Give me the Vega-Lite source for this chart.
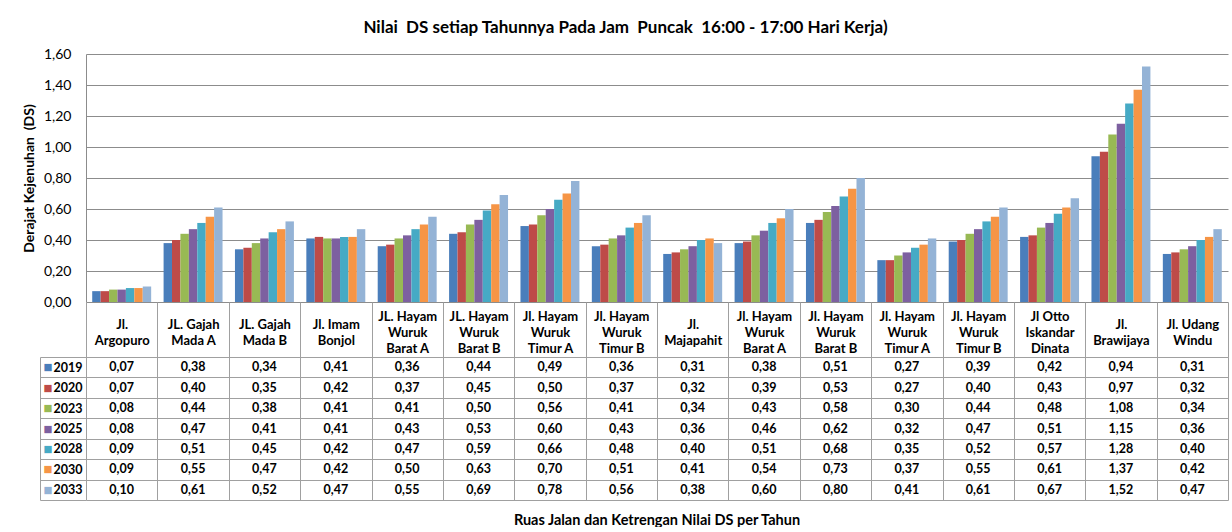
{
  "$schema": "https://vega.github.io/schema/vega-lite/v6.json",
  "background": "white",
  "padding": {"left": 22, "top": 19, "right": 4, "bottom": 0},
  "config": {
    "view": {"stroke": null},
    "locale": {"number": {"decimal": ",", "thousands": ".", "grouping": [3], "currency": ["", ""]}},
    "font": "Lato"
  },
  "title": {"text": "Nilai \u00a0DS setiap Tahunnya Pada Jam \u00a0Puncak \u00a016:00 - 17:00 Hari Kerja)", "font": "Lato", "fontSize": 17, "fontWeight": "bold", "color": "black", "anchor": "middle", "frame": "bounds", "offset": 10},
  "data": {"values": [
    {"k": "01|Jl.|Argopuro", "y": "2019", "v": 0.07}, {"k": "01|Jl.|Argopuro", "y": "2020", "v": 0.07}, {"k": "01|Jl.|Argopuro", "y": "2023", "v": 0.08}, {"k": "01|Jl.|Argopuro", "y": "2025", "v": 0.08}, {"k": "01|Jl.|Argopuro", "y": "2028", "v": 0.09}, {"k": "01|Jl.|Argopuro", "y": "2030", "v": 0.09}, {"k": "01|Jl.|Argopuro", "y": "2033", "v": 0.10},
    {"k": "02|JL. Gajah|Mada A", "y": "2019", "v": 0.38}, {"k": "02|JL. Gajah|Mada A", "y": "2020", "v": 0.40}, {"k": "02|JL. Gajah|Mada A", "y": "2023", "v": 0.44}, {"k": "02|JL. Gajah|Mada A", "y": "2025", "v": 0.47}, {"k": "02|JL. Gajah|Mada A", "y": "2028", "v": 0.51}, {"k": "02|JL. Gajah|Mada A", "y": "2030", "v": 0.55}, {"k": "02|JL. Gajah|Mada A", "y": "2033", "v": 0.61},
    {"k": "03|JL. Gajah|Mada B", "y": "2019", "v": 0.34}, {"k": "03|JL. Gajah|Mada B", "y": "2020", "v": 0.35}, {"k": "03|JL. Gajah|Mada B", "y": "2023", "v": 0.38}, {"k": "03|JL. Gajah|Mada B", "y": "2025", "v": 0.41}, {"k": "03|JL. Gajah|Mada B", "y": "2028", "v": 0.45}, {"k": "03|JL. Gajah|Mada B", "y": "2030", "v": 0.47}, {"k": "03|JL. Gajah|Mada B", "y": "2033", "v": 0.52},
    {"k": "04|Jl. Imam|Bonjol", "y": "2019", "v": 0.41}, {"k": "04|Jl. Imam|Bonjol", "y": "2020", "v": 0.42}, {"k": "04|Jl. Imam|Bonjol", "y": "2023", "v": 0.41}, {"k": "04|Jl. Imam|Bonjol", "y": "2025", "v": 0.41}, {"k": "04|Jl. Imam|Bonjol", "y": "2028", "v": 0.42}, {"k": "04|Jl. Imam|Bonjol", "y": "2030", "v": 0.42}, {"k": "04|Jl. Imam|Bonjol", "y": "2033", "v": 0.47},
    {"k": "05|JL. Hayam|Wuruk|Barat A", "y": "2019", "v": 0.36}, {"k": "05|JL. Hayam|Wuruk|Barat A", "y": "2020", "v": 0.37}, {"k": "05|JL. Hayam|Wuruk|Barat A", "y": "2023", "v": 0.41}, {"k": "05|JL. Hayam|Wuruk|Barat A", "y": "2025", "v": 0.43}, {"k": "05|JL. Hayam|Wuruk|Barat A", "y": "2028", "v": 0.47}, {"k": "05|JL. Hayam|Wuruk|Barat A", "y": "2030", "v": 0.50}, {"k": "05|JL. Hayam|Wuruk|Barat A", "y": "2033", "v": 0.55},
    {"k": "06|JL. Hayam|Wuruk|Barat B", "y": "2019", "v": 0.44}, {"k": "06|JL. Hayam|Wuruk|Barat B", "y": "2020", "v": 0.45}, {"k": "06|JL. Hayam|Wuruk|Barat B", "y": "2023", "v": 0.50}, {"k": "06|JL. Hayam|Wuruk|Barat B", "y": "2025", "v": 0.53}, {"k": "06|JL. Hayam|Wuruk|Barat B", "y": "2028", "v": 0.59}, {"k": "06|JL. Hayam|Wuruk|Barat B", "y": "2030", "v": 0.63}, {"k": "06|JL. Hayam|Wuruk|Barat B", "y": "2033", "v": 0.69},
    {"k": "07|Jl. Hayam|Wuruk|Timur A", "y": "2019", "v": 0.49}, {"k": "07|Jl. Hayam|Wuruk|Timur A", "y": "2020", "v": 0.50}, {"k": "07|Jl. Hayam|Wuruk|Timur A", "y": "2023", "v": 0.56}, {"k": "07|Jl. Hayam|Wuruk|Timur A", "y": "2025", "v": 0.60}, {"k": "07|Jl. Hayam|Wuruk|Timur A", "y": "2028", "v": 0.66}, {"k": "07|Jl. Hayam|Wuruk|Timur A", "y": "2030", "v": 0.70}, {"k": "07|Jl. Hayam|Wuruk|Timur A", "y": "2033", "v": 0.78},
    {"k": "08|Jl. Hayam|Wuruk|Timur B", "y": "2019", "v": 0.36}, {"k": "08|Jl. Hayam|Wuruk|Timur B", "y": "2020", "v": 0.37}, {"k": "08|Jl. Hayam|Wuruk|Timur B", "y": "2023", "v": 0.41}, {"k": "08|Jl. Hayam|Wuruk|Timur B", "y": "2025", "v": 0.43}, {"k": "08|Jl. Hayam|Wuruk|Timur B", "y": "2028", "v": 0.48}, {"k": "08|Jl. Hayam|Wuruk|Timur B", "y": "2030", "v": 0.51}, {"k": "08|Jl. Hayam|Wuruk|Timur B", "y": "2033", "v": 0.56},
    {"k": "09|Jl.|Majapahit", "y": "2019", "v": 0.31}, {"k": "09|Jl.|Majapahit", "y": "2020", "v": 0.32}, {"k": "09|Jl.|Majapahit", "y": "2023", "v": 0.34}, {"k": "09|Jl.|Majapahit", "y": "2025", "v": 0.36}, {"k": "09|Jl.|Majapahit", "y": "2028", "v": 0.40}, {"k": "09|Jl.|Majapahit", "y": "2030", "v": 0.41}, {"k": "09|Jl.|Majapahit", "y": "2033", "v": 0.38},
    {"k": "10|Jl. Hayam|Wuruk|Barat A", "y": "2019", "v": 0.38}, {"k": "10|Jl. Hayam|Wuruk|Barat A", "y": "2020", "v": 0.39}, {"k": "10|Jl. Hayam|Wuruk|Barat A", "y": "2023", "v": 0.43}, {"k": "10|Jl. Hayam|Wuruk|Barat A", "y": "2025", "v": 0.46}, {"k": "10|Jl. Hayam|Wuruk|Barat A", "y": "2028", "v": 0.51}, {"k": "10|Jl. Hayam|Wuruk|Barat A", "y": "2030", "v": 0.54}, {"k": "10|Jl. Hayam|Wuruk|Barat A", "y": "2033", "v": 0.60},
    {"k": "11|Jl. Hayam|Wuruk|Barat B", "y": "2019", "v": 0.51}, {"k": "11|Jl. Hayam|Wuruk|Barat B", "y": "2020", "v": 0.53}, {"k": "11|Jl. Hayam|Wuruk|Barat B", "y": "2023", "v": 0.58}, {"k": "11|Jl. Hayam|Wuruk|Barat B", "y": "2025", "v": 0.62}, {"k": "11|Jl. Hayam|Wuruk|Barat B", "y": "2028", "v": 0.68}, {"k": "11|Jl. Hayam|Wuruk|Barat B", "y": "2030", "v": 0.73}, {"k": "11|Jl. Hayam|Wuruk|Barat B", "y": "2033", "v": 0.80},
    {"k": "12|Jl. Hayam|Wuruk|Timur A", "y": "2019", "v": 0.27}, {"k": "12|Jl. Hayam|Wuruk|Timur A", "y": "2020", "v": 0.27}, {"k": "12|Jl. Hayam|Wuruk|Timur A", "y": "2023", "v": 0.30}, {"k": "12|Jl. Hayam|Wuruk|Timur A", "y": "2025", "v": 0.32}, {"k": "12|Jl. Hayam|Wuruk|Timur A", "y": "2028", "v": 0.35}, {"k": "12|Jl. Hayam|Wuruk|Timur A", "y": "2030", "v": 0.37}, {"k": "12|Jl. Hayam|Wuruk|Timur A", "y": "2033", "v": 0.41},
    {"k": "13|Jl. Hayam|Wuruk|Timur B", "y": "2019", "v": 0.39}, {"k": "13|Jl. Hayam|Wuruk|Timur B", "y": "2020", "v": 0.40}, {"k": "13|Jl. Hayam|Wuruk|Timur B", "y": "2023", "v": 0.44}, {"k": "13|Jl. Hayam|Wuruk|Timur B", "y": "2025", "v": 0.47}, {"k": "13|Jl. Hayam|Wuruk|Timur B", "y": "2028", "v": 0.52}, {"k": "13|Jl. Hayam|Wuruk|Timur B", "y": "2030", "v": 0.55}, {"k": "13|Jl. Hayam|Wuruk|Timur B", "y": "2033", "v": 0.61},
    {"k": "14|Jl Otto|Iskandar|Dinata", "y": "2019", "v": 0.42}, {"k": "14|Jl Otto|Iskandar|Dinata", "y": "2020", "v": 0.43}, {"k": "14|Jl Otto|Iskandar|Dinata", "y": "2023", "v": 0.48}, {"k": "14|Jl Otto|Iskandar|Dinata", "y": "2025", "v": 0.51}, {"k": "14|Jl Otto|Iskandar|Dinata", "y": "2028", "v": 0.57}, {"k": "14|Jl Otto|Iskandar|Dinata", "y": "2030", "v": 0.61}, {"k": "14|Jl Otto|Iskandar|Dinata", "y": "2033", "v": 0.67},
    {"k": "15|Jl.|Brawijaya", "y": "2019", "v": 0.94}, {"k": "15|Jl.|Brawijaya", "y": "2020", "v": 0.97}, {"k": "15|Jl.|Brawijaya", "y": "2023", "v": 1.08}, {"k": "15|Jl.|Brawijaya", "y": "2025", "v": 1.15}, {"k": "15|Jl.|Brawijaya", "y": "2028", "v": 1.28}, {"k": "15|Jl.|Brawijaya", "y": "2030", "v": 1.37}, {"k": "15|Jl.|Brawijaya", "y": "2033", "v": 1.52},
    {"k": "16|Jl. Udang|Windu", "y": "2019", "v": 0.31}, {"k": "16|Jl. Udang|Windu", "y": "2020", "v": 0.32}, {"k": "16|Jl. Udang|Windu", "y": "2023", "v": 0.34}, {"k": "16|Jl. Udang|Windu", "y": "2025", "v": 0.36}, {"k": "16|Jl. Udang|Windu", "y": "2028", "v": 0.40}, {"k": "16|Jl. Udang|Windu", "y": "2030", "v": 0.42}, {"k": "16|Jl. Udang|Windu", "y": "2033", "v": 0.47}
  ]},
  "spacing": 55,
  "bounds": "flush",
  "vconcat": [
    {
      "width": 1142,
      "height": 248,
      "mark": {"type": "bar"},
      "encoding": {
        "x": {"field": "k", "type": "nominal", "scale": {"paddingInner": 0.174, "paddingOuter": 0.087}, "axis": null},
        "xOffset": {"field": "y", "type": "nominal", "scale": {"paddingInner": 0, "paddingOuter": 0}},
        "y": {"field": "v", "type": "quantitative", "scale": {"domain": [0, 1.6], "nice": false},
          "axis": {"values": [0, 0.2, 0.4, 0.6, 0.8, 1.0, 1.2, 1.4, 1.6], "format": ".2f", "title": "Derajat Kejenuhan \u00a0(DS)", "titleFont": "Lato", "titleFontSize": 14, "titleFontWeight": "bold", "titleColor": "black", "titlePadding": 7, "labelFont": "Lato", "labelFontSize": 14, "labelColor": "black", "labelPadding": 15, "ticks": false, "domain": true, "domainColor": "#8c8c8c", "grid": true, "gridColor": "#8c8c8c"}},
        "color": {"field": "y", "type": "nominal", "scale": {"domain": ["2019", "2020", "2023", "2025", "2028", "2030", "2033"], "range": ["#4A7EBB", "#BE4B48", "#98B954", "#7D60A0", "#46AAC5", "#F69546", "#94B3D6"]}, "legend": null}
      }
    },
    {
      "width": 1142,
      "height": 143,
      "title": {"text": "Ruas Jalan dan Ketrengan Nilai DS per Tahun", "orient": "bottom", "anchor": "middle", "font": "Lato", "fontSize": 14.5, "fontWeight": "bold", "color": "black", "offset": 13},
      "encoding": {
        "x": {"field": "k", "type": "nominal", "scale": {"paddingInner": 0, "paddingOuter": 0},
          "axis": {"orient": "top", "title": null, "tickBand": "extent", "ticks": true, "tickSize": 55, "tickColor": "#A0A0A0", "domain": true, "domainColor": "#A0A0A0", "grid": true, "gridColor": "#A0A0A0", "labelExpr": "slice(split(datum.label, '|'), 1)",
            "labelPadding": {"condition": {"test": "length(split(datum.value, '|')) == 4", "value": -14.5}, "value": -22.5},
            "labelBaseline": "middle", "labelLineHeight": 16, "labelFont": "Lato", "labelFontSize": 13, "labelFontWeight": "bold", "labelColor": "black", "labelAngle": 0, "labelLimit": 0, "labelOverlap": false, "labelBound": false}}
      },
      "layer": [
        {
          "mark": {"type": "text", "font": "Lato", "fontSize": 12.5, "fontWeight": "bold", "color": "black", "baseline": "middle"},
          "encoding": {
            "y": {"field": "y", "type": "nominal", "scale": {"paddingInner": 0, "paddingOuter": 0},
              "axis": {"orient": "left", "title": null, "tickBand": "extent", "ticks": true, "tickSize": 46, "tickColor": "#A0A0A0", "domain": false, "grid": true, "gridColor": "#A0A0A0", "labelPadding": -42, "labelFont": "Lato", "labelFontSize": 12.5, "labelFontWeight": "bold", "labelColor": "black", "labelAlign": "right", "labelBaseline": "middle", "labelOverlap": false}},
            "text": {"field": "v", "type": "quantitative", "format": ".2f"}
          }
        },
        {
          "mark": {"type": "point", "opacity": 0},
          "encoding": {
            "y": {"field": "y", "type": "nominal",
              "axis": {"orient": "left", "offset": 46, "title": null, "ticks": false, "tickSize": 0, "grid": false, "domain": true, "domainColor": "#A0A0A0", "labelExpr": "'■'", "labelAlign": "left", "labelPadding": -3, "labelFont": "DejaVu Sans", "labelFontSize": 9.5, "labelBaseline": "middle", "labelOverlap": false,
                "labelColor": {"condition": [
                  {"test": "datum.value == '2019'", "value": "#4A7EBB"},
                  {"test": "datum.value == '2020'", "value": "#BE4B48"},
                  {"test": "datum.value == '2023'", "value": "#98B954"},
                  {"test": "datum.value == '2025'", "value": "#7D60A0"},
                  {"test": "datum.value == '2028'", "value": "#46AAC5"},
                  {"test": "datum.value == '2030'", "value": "#F69546"}
                ], "value": "#94B3D6"}}}
          }
        }
      ],
      "resolve": {"axis": {"y": "independent"}}
    }
  ]
}
